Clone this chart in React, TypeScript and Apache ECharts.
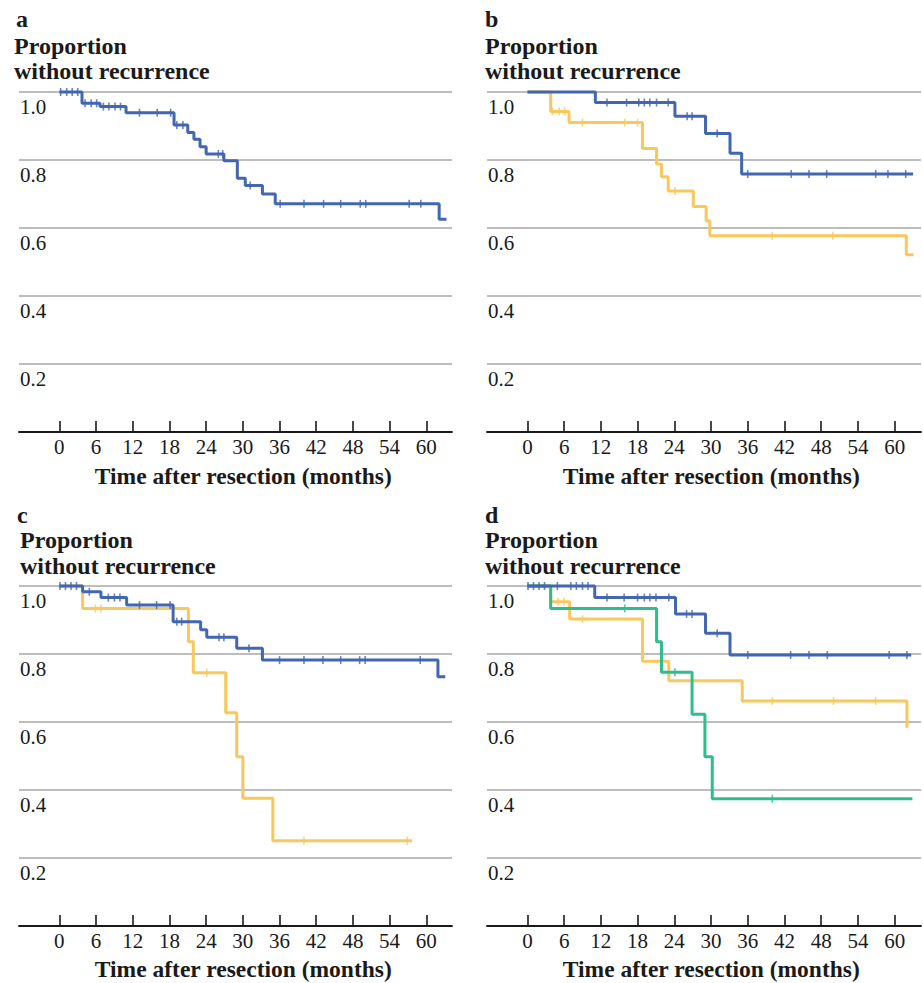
import React, { useEffect, useRef } from "react";
import * as echarts from "echarts";

const X_TICKS = [0, 6, 12, 18, 24, 30, 36, 42, 48, 54, 60];
const Y_TICKS_INTERVAL = 0.2;

// Panel a
const A_BLUE_STEPS: [number, number][] = [
  [0, 1], [3.7, 0.967], [6.65, 0.957], [10.9, 0.939], [18.75, 0.903], [21.0, 0.881],
  [22.0, 0.861], [23.0, 0.839], [24.0, 0.818], [26.9, 0.798], [29.1, 0.746], [30.4, 0.725],
  [33.2, 0.7], [35.3, 0.671], [62.1, 0.626], [63.3, 0.626],
];
const A_BLUE_CENSOR = [0.2, 1.2, 2.1, 3.0, 4.2, 5.2, 6.1, 7.2, 8.1, 9.1, 10.0, 13.1, 16.0, 18.2, 19.2, 20.2, 26.0, 26.7, 31.2, 36.1, 40.0, 43.2, 46.0, 49.2, 50.1, 57.2, 59.1];

// Panel b
const B_BLUE_STEPS: [number, number][] = [
  [0, 1], [11.1, 0.969], [24.1, 0.929], [29.1, 0.878], [33.1, 0.82], [35.0, 0.759], [63.0, 0.759],
];
const B_BLUE_CENSOR = [13.0, 16.2, 18.2, 19.1, 20.0, 21.1, 23.0, 26.1, 26.9, 31.0, 36.0, 43.1, 46.0, 48.9, 56.9, 58.9, 61.8];
const B_YELLOW_STEPS: [number, number][] = [
  [0, 1], [3.8, 0.943], [6.8, 0.91], [18.8, 0.834], [21.1, 0.788], [21.9, 0.751], [23.0, 0.709],
  [27.1, 0.663], [29.2, 0.621], [29.8, 0.577], [61.9, 0.521], [63.1, 0.521],
];
const B_YELLOW_CENSOR = [4.1, 5.2, 6.1, 9.0, 15.9, 18.0, 24.1, 40.0, 49.9];

// Panel c
const C_BLUE_STEPS: [number, number][] = [
  [0, 1], [3.8, 0.983], [6.8, 0.966], [11.0, 0.944], [18.6, 0.895], [23.1, 0.871], [24.1, 0.849],
  [29.0, 0.817], [33.2, 0.782], [61.9, 0.733], [63.1, 0.733],
];
const C_BLUE_CENSOR = [0.1, 1.0, 1.9, 2.8, 4.9, 8.0, 9.0, 9.9, 13.1, 15.9, 18.1, 19.2, 20.0, 26.1, 26.9, 31.0, 36.0, 40.0, 43.1, 46.0, 49.1, 50.0, 59.0];
const C_YELLOW_STEPS: [number, number][] = [
  [0, 1], [3.8, 0.934], [21.1, 0.836], [21.9, 0.745], [27.2, 0.627], [29.0, 0.498], [30.0, 0.376],
  [34.9, 0.251], [57.7, 0.251],
];
const C_YELLOW_CENSOR = [5.9, 6.8, 24.1, 40.0, 56.9];

// Panel d
const D_BLUE_STEPS: [number, number][] = [
  [0, 1], [11.0, 0.966], [24.2, 0.918], [29.1, 0.861], [33.1, 0.797], [62.7, 0.797],
];
const D_BLUE_CENSOR = [0.1, 1.0, 1.9, 2.8, 4.9, 7.1, 8.0, 9.0, 9.9, 13.0, 15.8, 18.0, 19.1, 20.0, 21.0, 23.1, 26.0, 26.9, 31.0, 36.0, 43.0, 46.0, 49.0, 59.1, 62.0];
const D_YELLOW_STEPS: [number, number][] = [
  [0, 1], [3.8, 0.954], [6.9, 0.903], [18.8, 0.779], [23.1, 0.721], [35.1, 0.662], [62.0, 0.583],
];
const D_YELLOW_CENSOR = [5.0, 6.0, 9.0, 40.0, 50.0, 56.9];
const D_GREEN_STEPS: [number, number][] = [
  [0, 1], [3.8, 0.934], [21.1, 0.836], [21.9, 0.746], [26.9, 0.623], [29.0, 0.498], [30.2, 0.374], [62.9, 0.374],
];
const D_GREEN_CENSOR = [15.9, 24.1, 40.0];

const PANEL_LETTERS = ["a", "b", "c", "d"];
const Y_TITLE_LINES = ["Proportion", "without recurrence"];
const X_TITLE = "Time after resection (months)";

const BLUE = "#4266B0";
const YELLOW = "#F9C85B";
const GREEN = "#2EBD8E";
const INK = "#1a1a1a";
const FONT = "'Liberation Serif', 'Times New Roman', serif";

function censorPoints(steps: [number, number][], times: number[]): [number, number][] {
  return times.map((t) => {
    let s = steps[0][1];
    for (const [st, sv] of steps) {
      if (st <= t) s = sv;
    }
    return [t, s];
  });
}

export default function App() {
  const ref = useRef<HTMLDivElement>(null);
  useEffect(() => {
    if (!ref.current) return;
    const chart = echarts.init(ref.current, undefined, { renderer: "svg" });

    const grids = [
      { left: 19, top: 92, width: 433, height: 340 },
      { left: 487, top: 92, width: 434, height: 340 },
      { left: 19, top: 586, width: 433, height: 340 },
      { left: 487, top: 586, width: 434, height: 340 },
    ];
    const xMax = [64.2, 64.3, 64.2, 64.3];

    const xAxes = grids.map((_, i) => ({
      gridIndex: i,
      type: "value",
      min: -6.6,
      max: xMax[i],
      axisLine: { show: true, onZero: false, lineStyle: { color: INK, width: 1.8 } },
      axisTick: { show: true, inside: true, length: 11, customValues: X_TICKS, lineStyle: { color: INK, width: 1.6 } },
      axisLabel: { customValues: X_TICKS, margin: 4, fontSize: 21, color: INK, fontFamily: FONT },
      splitLine: { show: false },
    }));
    const yAxes = grids.map((_, i) => ({
      gridIndex: i,
      type: "value",
      min: 0,
      max: 1,
      interval: Y_TICKS_INTERVAL,
      axisLine: { show: false },
      axisTick: { show: false },
      splitLine: { show: true, lineStyle: { color: "#bdbdbd", width: 1.8 } },
      axisLabel: {
        inside: true,
        margin: 1,
        showMinLabel: false,
        verticalAlign: "top",
        padding: [4, 0, 0, 0],
        fontSize: 21,
        lineHeight: 21,
        color: INK,
        fontFamily: FONT,
        formatter: (v: number) => (v === 0 ? "" : v.toFixed(1)),
      },
    }));

    const lineSeries = (idx: number, steps: [number, number][], color: string, z: number) => ({
      type: "line",
      xAxisIndex: idx,
      yAxisIndex: idx,
      step: "end",
      data: steps,
      showSymbol: false,
      symbol: "none",
      clip: false,
      z,
      lineStyle: { color, width: 3 },
    });
    const censorSeries = (idx: number, steps: [number, number][], times: number[], color: string, z: number) => ({
      type: "scatter",
      xAxisIndex: idx,
      yAxisIndex: idx,
      data: censorPoints(steps, times),
      symbol: "rect",
      symbolSize: [1.6, 8],
      clip: false,
      z,
      itemStyle: { color },
    });

    const series = [
      lineSeries(0, A_BLUE_STEPS, BLUE, 5),
      censorSeries(0, A_BLUE_STEPS, A_BLUE_CENSOR, BLUE, 6),

      lineSeries(1, B_YELLOW_STEPS, YELLOW, 3),
      censorSeries(1, B_YELLOW_STEPS, B_YELLOW_CENSOR, YELLOW, 4),
      lineSeries(1, B_BLUE_STEPS, BLUE, 5),
      censorSeries(1, B_BLUE_STEPS, B_BLUE_CENSOR, BLUE, 6),

      lineSeries(2, C_YELLOW_STEPS, YELLOW, 3),
      censorSeries(2, C_YELLOW_STEPS, C_YELLOW_CENSOR, YELLOW, 4),
      lineSeries(2, C_BLUE_STEPS, BLUE, 5),
      censorSeries(2, C_BLUE_STEPS, C_BLUE_CENSOR, BLUE, 6),

      lineSeries(3, D_YELLOW_STEPS, YELLOW, 2),
      censorSeries(3, D_YELLOW_STEPS, D_YELLOW_CENSOR, YELLOW, 3),
      lineSeries(3, D_GREEN_STEPS, GREEN, 4),
      censorSeries(3, D_GREEN_STEPS, D_GREEN_CENSOR, GREEN, 4),
      lineSeries(3, D_BLUE_STEPS, BLUE, 5),
      censorSeries(3, D_BLUE_STEPS, D_BLUE_CENSOR, BLUE, 6),
    ];

    const text = (t: string, x: number, y: number, size: number, align = "left") => ({
      type: "text",
      x,
      y,
      silent: true,
      style: {
        text: t,
        font: `bold ${size}px ${FONT}`,
        fill: INK,
        textAlign: align,
        textVerticalAlign: "middle",
        align,
        verticalAlign: "middle",
      },
    });

    const letterPos = [
      [16, 18.6], [485, 18.6], [17, 515], [485, 515],
    ];
    const titleX = [14, 485, 20, 485];
    const titleY = [45.9, 45.9, 540.2, 540.2];
    const xTitlePos = [
      [243.3, 476], [711.3, 476], [243.3, 969], [711.3, 969],
    ];

    const graphics: any[] = [];
    PANEL_LETTERS.forEach((l, i) => {
      graphics.push(text(l, letterPos[i][0], letterPos[i][1], 24));
      graphics.push(text(Y_TITLE_LINES[0], titleX[i], titleY[i], 24));
      graphics.push(text(Y_TITLE_LINES[1], titleX[i], titleY[i] + 25.3, 24));
      graphics.push(text(X_TITLE, xTitlePos[i][0], xTitlePos[i][1], 23.5, "center"));
    });

    chart.setOption({
      animation: false,
      backgroundColor: "#ffffff",
      grid: grids,
      xAxis: xAxes,
      yAxis: yAxes,
      series,
      graphic: graphics,
    });
    return () => chart.dispose();
  }, []);

  return <div ref={ref} style={{ position: "fixed", left: 0, top: 0, width: 923, height: 983 }} />;
}
